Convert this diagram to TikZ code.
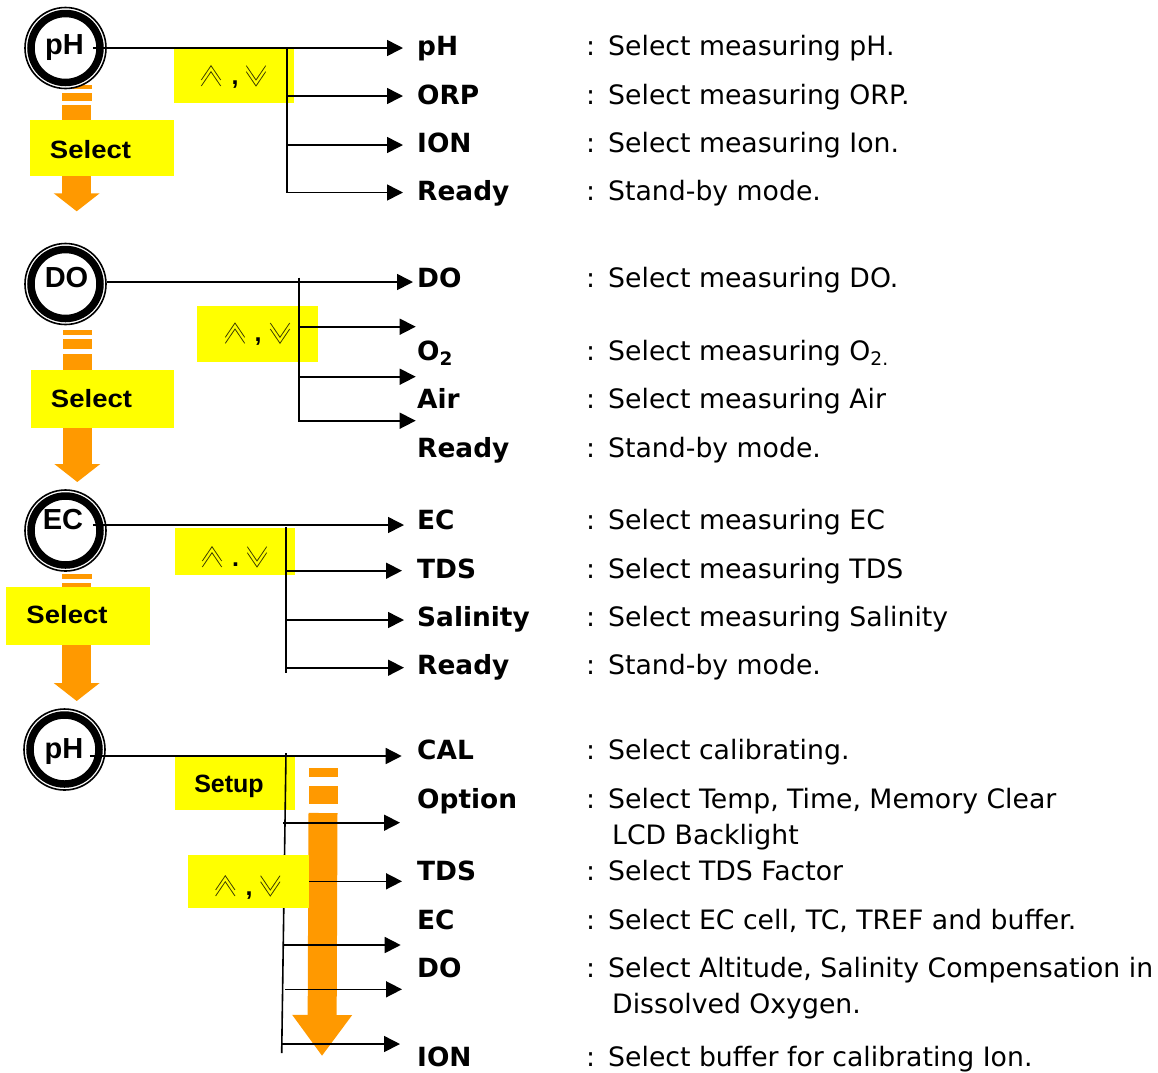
\documentclass[tikz,border=0pt]{standalone}
\usepackage{fontspec}
\setmainfont{DejaVu Sans}
\newfontfamily\keyfont{Liberation Sans}
\usetikzlibrary{arrows.meta}
\definecolor{selorange}{HTML}{FF9900}
\definecolor{chevline}{HTML}{404000}
\definecolor{keyyellow}{HTML}{FFFF00}
\newcommand{\colonmark}{\makebox[22pt][l]{:}}
\tikzset{
  outerring/.style={circle,draw,line width=1.6pt,fill=white,minimum size=81pt,inner sep=0pt},
  innerring/.style={circle,draw,line width=7.5pt,minimum size=69pt,inner sep=0pt},
  keybox/.style={fill=keyyellow,inner sep=0pt},
  keytext/.style={inner sep=0pt,font=\keyfont\bfseries\fontsize{25}{30}\selectfont},
  widekey/.style={keytext,xscale=1.1},
  ringtext/.style={inner sep=0pt,font=\keyfont\bfseries\fontsize{29}{32}\selectfont},
  marktext/.style={keytext,anchor=base},
  labeltext/.style={anchor=base west,inner sep=0pt,font=\bfseries\fontsize{26.4}{30}\selectfont},
  desctext/.style={anchor=base west,inner sep=0pt,font=\fontsize{26.7}{30}\selectfont},
  branch/.style={line width=1.6pt,-{Triangle[length=16pt,width=16pt]}},
  trunk/.style={line width=1.6pt},
  selarrow/.style={selorange,line width=29pt,-{Triangle[length=18pt,width=45pt]}},
  selbar/.style={fill=selorange},
  pics/updownkeys/.style={code={
    \draw[chevline,line width=.8pt] (-9.7,14.3) -- (0,0) -- (9.7,14.3);
    \draw[chevline,line width=.8pt] (-9.7,20.3) -- (0,6) -- (9.7,20.3);
    \draw[chevline,line width=.8pt] (35.3,0) -- (45,14.3) -- (54.7,0);
    \draw[chevline,line width=.8pt] (35.3,6) -- (45,20.3) -- (54.7,6);
  }},
}
\begin{document}
\begin{tikzpicture}[x=1pt,y=-1pt]
\useasboundingbox (0,0) rectangle (1158,1072);

% first block
\fill[selbar] (62,85) rectangle (91.5,89);
\fill[selbar] (62,92.7) rectangle (91.5,100.7);
\coordinate (selAs) at (76.7,105);
\coordinate (selAe) at (76.7,211.3);
\draw[selarrow] (selAs) -- (selAe);
\node[keybox,minimum width=144pt,minimum height=56pt] (selA) at (102,148) {};
\node[widekey] (selAt) at (90.5,150) {Select};
\node[keybox,minimum width=120pt,minimum height=55pt] (keyA) at (234,75.5) {};
\pic at (211,65.7) {updownkeys};
\node[marktext] (comA) at (235,84) {,};
\node[outerring] (ringA) at (65.5,48) {};
\node[innerring] (discA) at (ringA) {};
\node[ringtext] (phA) at (64.5,48) {pH};
\coordinate (trA0) at (287,48);
\coordinate (trA1) at (287,96);
\coordinate (trA2) at (287,145);
\coordinate (trA3) at (287,193);
\coordinate (tipA0) at (403,48);
\coordinate (tipA1) at (403,96);
\coordinate (tipA2) at (403,145);
\coordinate (tipA3) at (403,192.5);
\draw[trunk] (trA0) -- (trA3);
\draw[branch] ([xshift=-14pt]ringA.east) -- (tipA0);
\draw[branch] (trA1) -- (tipA1);
\draw[branch] (trA2) -- (tipA2);
\draw[branch] (trA3 |- tipA3) -- (tipA3);
\node[labeltext] (lA0) at (417,55) {pH};
\node[labeltext] (lA1) at (417,104) {ORP};
\node[labeltext] (lA2) at (417,152) {ION};
\node[labeltext] (lA3) at (417,200) {Ready};
\node[desctext] (dA0) at (586,55) {\colonmark Select measuring pH.};
\node[desctext] (dA1) at (586,104) {\colonmark Select measuring ORP.};
\node[desctext] (dA2) at (586,152) {\colonmark Select measuring Ion.};
\node[desctext] (dA3) at (586,200) {\colonmark Stand-by mode.};

% second block
\fill[selbar] (63,330) rectangle (92,334.7);
\fill[selbar] (63,339.3) rectangle (92,348.7);
\coordinate (selBs) at (77.3,354);
\coordinate (selBe) at (77.3,482);
\draw[selarrow] (selBs) -- (selBe);
\node[keybox,minimum width=143pt,minimum height=58pt] (selB) at (102.5,399) {};
\node[widekey] (selBt) at (91.5,399) {Select};
\node[keybox,minimum width=121pt,minimum height=56pt] (keyB) at (257.5,334) {};
\pic at (235,323) {updownkeys};
\node[marktext] (comB) at (258,341) {,};
\node[outerring] (ringB) at (65.5,284) {};
\node[innerring] (discB) at (ringB) {};
\node[ringtext] (phB) at (66.5,278) {DO};
\coordinate (trB0) at (299,277.7);
\coordinate (trB1) at (299,326.7);
\coordinate (trB2) at (299,376.7);
\coordinate (trB3) at (299,421.7);
\coordinate (tipB0) at (413,282);
\coordinate (tipB1) at (415.7,326.7);
\coordinate (tipB2) at (415.7,376.7);
\coordinate (tipB3) at (415.7,420.7);
\draw[trunk] (trB0) -- (trB3);
\draw[branch] ([yshift=2pt]ringB.east) -- (tipB0);
\draw[branch] (trB1) -- (tipB1);
\draw[branch] (trB2) -- (tipB2);
\draw[branch] (trB3 |- tipB3) -- (tipB3);
\node[labeltext] (lB0) at (417,287) {DO};
\node[labeltext] (lB1) at (417,360) {O\textsubscript{2}};
\node[labeltext] (lB2) at (417,408) {Air};
\node[labeltext] (lB3) at (417,457) {Ready};
\node[desctext] (dB0) at (586,287) {\colonmark Select measuring DO.};
\node[desctext] (dB1) at (586,360) {\colonmark Select measuring O\textsubscript{2.}};
\node[desctext] (dB2) at (586,408) {\colonmark Select measuring Air};
\node[desctext] (dB3) at (586,457) {\colonmark Stand-by mode.};

% third block
\fill[selbar] (62,574.3) rectangle (91.5,579);
\coordinate (selCs) at (76.7,583);
\coordinate (selCe) at (76.7,701);
\draw[selarrow] (selCs) -- (selCe);
\node[keybox,minimum width=144pt,minimum height=58pt] (selC) at (78,616) {};
\node[widekey] (selCt) at (67,615) {Select};
\node[keybox,minimum width=120pt,minimum height=47.5pt] (keyC) at (235,551.5) {};
\pic at (212,546.7) {updownkeys};
\node[marktext] (comC) at (235.7,566) {.};
\node[outerring] (ringC) at (65.5,530.5) {};
\node[innerring] (discC) at (ringC) {};
\node[ringtext] (phC) at (63,520) {EC};
\coordinate (trC0) at (286,527);
\coordinate (trC1) at (286,570.7);
\coordinate (trC2) at (286,620);
\coordinate (trC3) at (286,672.7);
\coordinate (tipC0) at (404,525);
\coordinate (tipC1) at (402,570.7);
\coordinate (tipC2) at (404,620);
\coordinate (tipC3) at (404,667.7);
\draw[trunk] (trC0) -- (trC3);
\draw[branch] ([xshift=-14pt,yshift=5.5pt]ringC.east) -- (tipC0);
\draw[branch] (trC1) -- (tipC1);
\draw[branch] (trC2) -- (tipC2);
\draw[branch] (trC3 |- tipC3) -- (tipC3);
\node[labeltext] (lC0) at (417,529) {EC};
\node[labeltext] (lC1) at (417,578) {TDS};
\node[labeltext] (lC2) at (417,626) {Salinity};
\node[labeltext] (lC3) at (417,674) {Ready};
\node[desctext] (dC0) at (586,529) {\colonmark Select measuring EC};
\node[desctext] (dC1) at (586,578) {\colonmark Select measuring TDS};
\node[desctext] (dC2) at (586,626) {\colonmark Select measuring Salinity};
\node[desctext] (dC3) at (586,674) {\colonmark Stand-by mode.};

% last block
\node[keybox,minimum width=120pt,minimum height=53pt] (keyD) at (235,783) {};
\node[keytext] (setD) at (229,786) {Setup};
\fill[selbar] (309,768) rectangle (338,777);
\fill[selbar] (309,786) rectangle (338,804);
\coordinate (selDs) at (323,813);
\coordinate (selDe) at (322,1056);
\draw[selarrow,-{Triangle[length=41pt,width=57pt]}] (selDs) -- (selDe);
\node[outerring] (ringD) at (64.5,749.5) {};
\node[innerring] (discD) at (ringD) {};
\node[ringtext] (phD) at (64,752) {pH};
\coordinate (trD0) at (286,753);
\coordinate (trD1) at (283,822.7);
\coordinate (trD2) at (283,881.3);
\coordinate (trD3) at (283,945);
\coordinate (trD4) at (285,989.3);
\coordinate (trD5) at (282,1044);
\coordinate (trD6) at (281.7,1053);
\coordinate (tipD0) at (401.7,756);
\coordinate (tipD1) at (400,822.7);
\coordinate (tipD2) at (402,881.3);
\coordinate (tipD3) at (400.7,945);
\coordinate (tipD4) at (402,989.3);
\coordinate (tipD5) at (400,1044);
\draw[trunk] (trD0) -- (trD6);
\draw[branch] ([xshift=-16pt,yshift=-6.5pt]ringD.east) -- (tipD0);
\draw[branch] (trD1) -- (tipD1);
\draw[branch] (trD2) -- (tipD2);
\draw[branch] (trD3) -- (tipD3);
\draw[branch] (trD4) -- (tipD4);
\draw[branch] (trD5) -- (tipD5);
\node[keybox,minimum width=121pt,minimum height=53pt] (keyE) at (248.5,881.5) {};
\pic at (225.3,875.7) {updownkeys};
\node[marktext] (comE) at (249,895) {,};
\node[labeltext] (lD0) at (417,759) {CAL};
\node[labeltext] (lD1) at (417,808) {Option};
\node[labeltext] (lD2) at (417,880) {TDS};
\node[labeltext] (lD3) at (417,929) {EC};
\node[labeltext] (lD4) at (417,977) {DO};
\node[labeltext] (lD5) at (417,1066) {ION};
\node[desctext] (dD0) at (586,759) {\colonmark Select calibrating.};
\node[desctext] (dD1) at (586,808) {\colonmark Select Temp, Time, Memory Clear};
\node[desctext] (dD1b) at (612,844) {LCD Backlight};
\node[desctext] (dD2) at (586,880) {\colonmark Select TDS Factor};
\node[desctext] (dD3) at (586,929) {\colonmark Select EC cell, TC, TREF and buffer.};
\node[desctext] (dD4) at (586,977) {\colonmark Select Altitude, Salinity Compensation in};
\node[desctext] (dD4b) at (612,1013) {Dissolved Oxygen.};
\node[desctext] (dD5) at (586,1066) {\colonmark Select buffer for calibrating Ion.};
\end{tikzpicture}
\end{document}
